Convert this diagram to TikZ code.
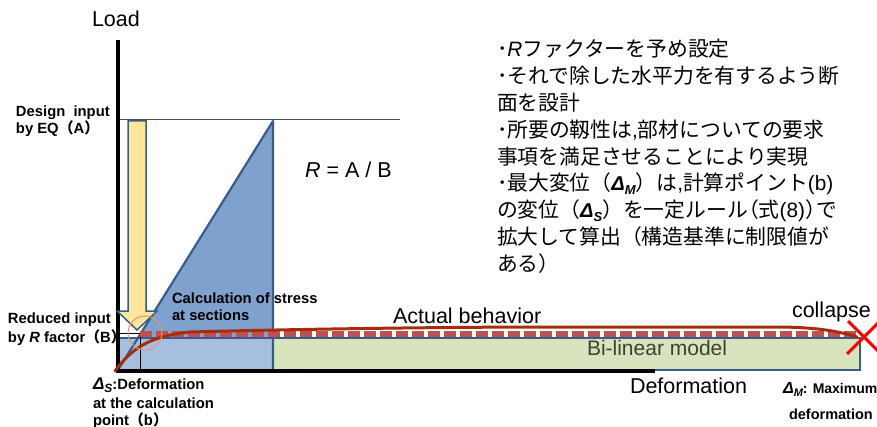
\documentclass[tikz,border=0pt]{standalone}
\usepackage{fontspec}
\setmainfont{Liberation Sans}
\newfontfamily\jp{Noto Sans CJK JP}
\definecolor{triblue}{RGB}{126,161,206}
\definecolor{ltblue}{RGB}{167,191,222}
\definecolor{grn}{RGB}{215,228,189}
\definecolor{dkblue}{RGB}{56,93,138}
\definecolor{yel}{RGB}{255,230,153}
\definecolor{dashred}{RGB}{192,80,77}
\definecolor{curvered}{RGB}{165,45,10}
\definecolor{salmon}{RGB}{225,150,120}
\definecolor{olivetxt}{RGB}{64,64,48}
\newcommand{\myDelta}[2]{{\rmfamily\bfseries\itshape Δ\raisebox{-3.5pt}{\fontsize{#2}{#2}\selectfont #1}}}
\newcommand{\nlp}{\makebox[11pt][r]{（}}
\newcommand{\nrp}{\makebox[11pt][l]{）}}
\begin{document}
\begin{tikzpicture}[x=1pt,y=-1pt,
  every node/.style={inner sep=0pt,outer sep=0pt},
  big/.style={font=\fontsize{21.5}{26}\selectfont,anchor=base west},
  lbl/.style={font=\fontsize{14.8}{18}\selectfont\bfseries,anchor=base west},
  jpl/.style={font=\fontsize{20.8}{26}\selectfont\jp,anchor=base west},
  axis/.style={line width=3.5pt},
  thin/.style={line width=0.8pt}]
\useasboundingbox (0,0) rectangle (877,427);

% design level line
\draw[thin,black!70] (118,119) -- (400,119);

% triangle fill, rectangles
\fill[triblue] (118,370) -- (273,121) -- (273,370) -- cycle;
\filldraw[fill=ltblue,draw=dkblue,line width=2pt] (118,338) rectangle (273,370);
\filldraw[fill=grn,draw=dkblue,line width=2pt] (273,338) rectangle (860,370);
\draw[dkblue,line width=2.2pt,line join=round] (118,370) -- (273,121) -- (273,370);

% axes
\coordinate (ytop) at (118,40);
\coordinate (orig) at (118,371);
\coordinate (xend) at (655,371);
\draw[axis] (ytop) -- ([yshift=-1.7pt]orig);
\draw[axis] ([xshift=-1.7pt]orig) -- (xend);

% yellow arrow
\filldraw[fill=yel,draw=dkblue,line width=1.5pt,line join=miter]
  (128,121) -- (146,121) -- (146,311) -- (157,311) -- (137,330) -- (117,311) -- (128,311) -- cycle;

% reduced level lines
\coordinate (red0) at (118,333);
\coordinate (redp) at (140,333);
\coordinate (redb) at (140,371);
\draw[thin] (red0) -- (redp) -- (redb);

% bilinear dashed line
\coordinate (dstart) at (140,334);
\coordinate (dend) at (857,334);
\draw[dashred,line width=5.5pt,dash pattern=on 12pt off 4pt] (dstart) -- (dend);

% actual behaviour curve
\draw[curvered,line width=3pt,line cap=round]
  (115,371) .. controls (132,348) and (150,336) .. (190,332)
  .. controls (300,329) and (450,327) .. (550,327) -- (775,327)
  .. controls (815,327) and (838,331) .. (857,337);

% circle
\draw[salmon,line width=1pt] (145,333) circle (17pt);

% red cross
\draw[red,line width=3pt] (848,321) -- (881,354);
\draw[red,line width=3pt] (847,354) -- (880,321);

% texts
\node[big] (load) at (92,27) {Load};
\node[big] (rab) at (305,178) {\textit{R} = A / B};
\node[big] (act) at (393,323) {Actual behavior};
\node[big] (col) at (792,317) {collapse};
\node[big] (def) at (630,393) {Deformation};
\node[big,text=olivetxt,font=\fontsize{21}{26}\selectfont] (bil) at (587,355) {Bi-linear model};

\node[lbl] (des1) at (16,117) {Design\ \ input};
\node[lbl] (des2) at (16,134) {by EQ{\jp\bfseries （}A{\jp\bfseries ）}};
\node[lbl] (red1) at (8,323) {Reduced input};
\node[lbl] (red2) at (8,342) {by \textit{R} factor{\jp\bfseries （}B{\jp\bfseries ）}};
\node[lbl] (calc1) at (172,303) {Calculation of stress};
\node[lbl] (calc2) at (172,320) {at sections};
\node[lbl] (ds1) at (93,389) {{\fontsize{17}{17}\selectfont\myDelta{S}{12}}:Deformation};
\node[lbl] (ds2) at (93,408) {at the calculation};
\node[lbl] (ds3) at (93,425) {point{\jp\bfseries （}b{\jp\bfseries ）}};
\node[lbl,font=\fontsize{14}{16}\selectfont\bfseries] (dm1) at (783,393) {{\fontsize{16}{16}\selectfont\myDelta{M}{11}}: Maximum};
\node[lbl,font=\fontsize{14.5}{16}\selectfont\bfseries] (dm2) at (789,419) {deformation};

% japanese notes
\node[jpl] (j1) at (497,56.5) {･{\rmfamily\itshape R}ファクターを予め設定};
\node[jpl] (j2) at (497,83.4) {･それで除した水平力を有するよう断};
\node[jpl] (j3) at (497,110.3) {面を設計};
\node[jpl] (j4) at (497,137.2) {･所要の靱性は{\rmfamily ,}部材についての要求};
\node[jpl] (j5) at (497,164.1) {事項を満足させることにより実現};
\node[jpl] (j6) at (497,191) {･最大変位（{\fontsize{20}{20}\selectfont\myDelta{M}{13}}）は{\rmfamily ,}計算ポイント{\rmfamily (b)}};
\node[jpl] (j7) at (497,217.9) {の変位（{\fontsize{20}{20}\selectfont\myDelta{S}{13}}）を一定ルール\nlp 式{\rmfamily (8)}\nrp で};
\node[jpl] (j8) at (497,244.8) {拡大して算出（構造基準に制限値が};
\node[jpl] (j9) at (497,271.7) {ある）};
\end{tikzpicture}
\end{document}
